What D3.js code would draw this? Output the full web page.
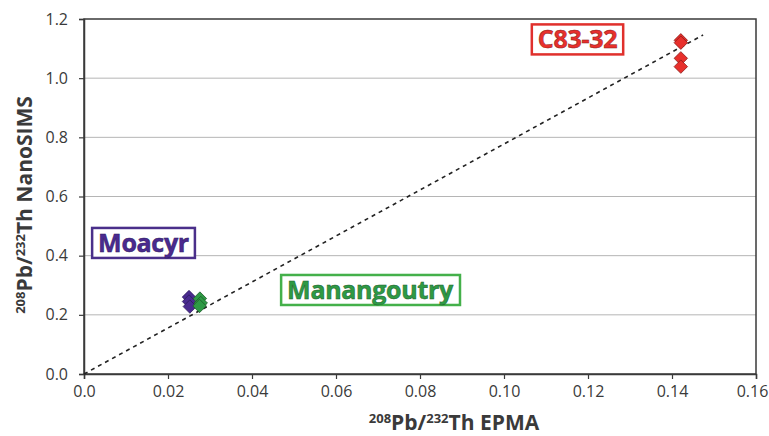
<!DOCTYPE html>
<html><head><meta charset="utf-8">
<script src="https://cdn.jsdelivr.net/npm/d3@7"></script>
<style>body{margin:0;background:#fff;} svg{display:block;}</style>
</head><body>
<svg id="c" width="769" height="436"></svg>
<script>
const xTicks = [0, 0.02, 0.04, 0.06, 0.08, 0.10, 0.12, 0.14, 0.16];
const yTicks = [0, 0.2, 0.4, 0.6, 0.8, 1.0, 1.2];
const moacyrX = [0.0250, 0.0250, 0.0252];
const moacyrY = [0.260, 0.245, 0.228];
const manangX = [0.0276, 0.0278, 0.0275];
const manangY = [0.255, 0.240, 0.230];
const c8332X = [0.1421, 0.1421, 0.1421, 0.1421];
const c8332Y = [1.128, 1.120, 1.067, 1.039];
const fitLine = [[0, 0], [0.1474, 1.146]];
const groups = [
  {name: "Moacyr", xs: moacyrX, ys: moacyrY, fill: "#4a2a90", edge: "#2d1a5c", box: "#4a2f8a", lx: 0.01417, ly: 0.443},
  {name: "Manangoutry", xs: manangX, ys: manangY, fill: "#2e9a45", edge: "#1d5c2a", box: "#44b04a", lx: 0.0681, ly: 0.284},
  {name: "C83-32", xs: c8332X, ys: c8332Y, fill: "#e8302c", edge: "#8a1a18", box: "#e0302c", lx: 0.1175, ly: 1.131}
];

const svg = d3.select("#c");
const m = {l: 84, r: 756, t: 19, b: 374};
const x = d3.scaleLinear().domain([0, 0.16]).range([m.l, m.r]);
const y = d3.scaleLinear().domain([0, 1.2]).range([m.b, m.t]);
const font = "'Open Sans', 'DejaVu Sans', sans-serif";

// gridlines
svg.append("g").selectAll("line").data(yTicks.filter(d => d > 0 && d < 1.2)).join("line")
  .attr("x1", m.l).attr("x2", m.r).attr("y1", d => y(d)).attr("y2", d => y(d))
  .attr("stroke", "#b5b5b5").attr("stroke-width", 1);

// frame
svg.append("rect").attr("x", m.l).attr("y", m.t).attr("width", m.r - m.l).attr("height", m.b - m.t)
  .attr("fill", "none").attr("stroke", "#3a3a3a").attr("stroke-width", 1.5);

// axes
const xAxis = d3.axisBottom(x).tickValues(xTicks).tickSize(5).tickPadding(7)
  .tickFormat(d => d === 0 ? "0.0" : d3.format(".2f")(d));
const gx = svg.append("g").attr("transform", `translate(0,${m.b})`).call(xAxis);
const yAxis = d3.axisLeft(y).tickValues(yTicks).tickSize(5).tickPadding(11).tickFormat(d3.format(".1f"));
const gy = svg.append("g").attr("transform", `translate(${m.l},0)`).call(yAxis);
[gx, gy].forEach(g => {
  g.select(".domain").attr("stroke", "#3a3a3a").attr("stroke-width", 1.5);
  g.selectAll(".tick line").attr("stroke", "#3a3a3a").attr("stroke-width", 1.2);
  g.selectAll(".tick text").attr("fill", "#3a3a3a").style("font-family", font).style("font-size", "16px");
});
gx.selectAll(".tick text").filter(d => d === 0.16).attr("dx", "-4");

// dashed fit line
svg.append("path").datum(fitLine)
  .attr("d", d3.line().x(d => x(d[0])).y(d => y(d[1])))
  .attr("stroke", "#222").attr("stroke-width", 1.6).attr("stroke-dasharray", "4,4").attr("fill", "none");

// points
const sym = d3.symbol().type(d3.symbolDiamond2).size(115);
groups.forEach(g => {
  const pts = g.xs.map((v, i) => [v, g.ys[i]]);
  svg.append("g").selectAll("path").data(pts).join("path")
    .attr("d", sym)
    .attr("transform", d => `translate(${x(d[0])},${y(d[1])})`)
    .attr("fill", g.fill).attr("stroke", g.edge).attr("stroke-width", 0.8);
});

// labels with boxes
groups.forEach(g => {
  const lg = svg.append("g");
  const r = lg.append("rect");
  const t = lg.append("text").attr("x", x(g.lx)).attr("y", y(g.ly)).attr("dy", "0.36em")
    .attr("text-anchor", "middle")
    .attr("fill", g.fill).attr("stroke", g.edge).attr("stroke-width", 0.5)
    .style("font-family", font).style("font-weight", "bold").style("font-size", "25px")
    .style("letter-spacing", "-0.3px")
    .text(g.name);
  const bb = t.node().getBBox();
  const cy = y(g.ly);
  r.attr("x", bb.x - 6).attr("y", cy - 15).attr("width", bb.width + 12).attr("height", 30)
    .attr("fill", "#fff").attr("stroke", g.box).attr("stroke-width", 2.5);
});

// axis titles
const xt = svg.append("text").attr("x", 454).attr("y", 430).attr("text-anchor", "middle")
  .attr("fill", "#3a3a3a").style("font-family", font).style("font-weight", "bold").style("font-size", "21px");
xt.append("tspan").attr("font-size", "13px").attr("dy", "-7").text("208");
xt.append("tspan").attr("dy", "7").text("Pb/");
xt.append("tspan").attr("font-size", "13px").attr("dy", "-7").text("232");
xt.append("tspan").attr("dy", "7").text("Th EPMA");

const yt = svg.append("text").attr("transform", "translate(32,205) rotate(-90)").attr("text-anchor", "middle")
  .attr("fill", "#3a3a3a").style("font-family", font).style("font-weight", "bold").style("font-size", "21px");
yt.append("tspan").attr("font-size", "13px").attr("dy", "-7").text("208");
yt.append("tspan").attr("dy", "7").text("Pb/");
yt.append("tspan").attr("font-size", "13px").attr("dy", "-7").text("232");
yt.append("tspan").attr("dy", "7").text("Th NanoSIMS");
</script>
</body></html>
